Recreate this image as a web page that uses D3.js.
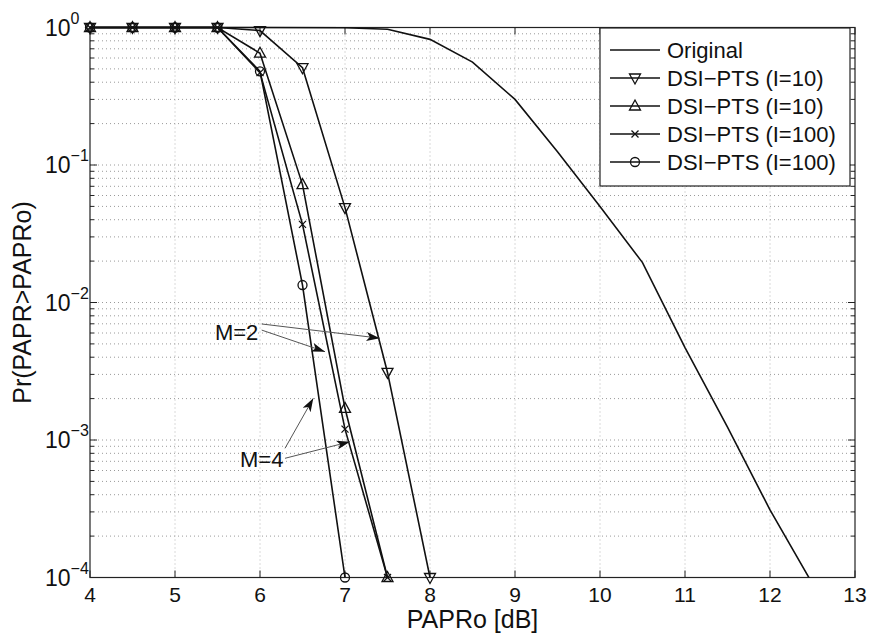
<!DOCTYPE html>
<html>
<head>
<meta charset="utf-8">
<script src="https://cdn.jsdelivr.net/npm/d3@7"></script>
<style>
  body { margin: 0; background: #fff; }
  text { font-family: "Liberation Sans", Arial, sans-serif; fill: #111; }
</style>
</head>
<body>
<svg id="chart"></svg>
<script>
// PAPRo axis points for the DSI-PTS curves (0.5 dB steps)
const papro = [4, 4.5, 5, 5.5, 6, 6.5, 7, 7.5, 8];
// Original CCDF
const origX = [4, 5, 6, 7, 7.5, 8, 8.5, 9, 9.5, 10, 10.5, 11, 11.5, 12, 12.5];
const origY = [1, 1, 1, 0.995, 0.97, 0.82, 0.56, 0.30, 0.125, 0.05, 0.0195, 0.0047, 0.00124, 0.00031, 0.00009];
// DSI-PTS curves
const dsiI10a  = [1, 1, 1, 1, 0.95, 0.51, 0.049, 0.0031, 0.0001];
const dsiI10b  = [1, 1, 1, 1, 0.65, 0.072, 0.0017, 0.0001];
const dsiI100a = [1, 1, 1, 1, 0.47, 0.037, 0.0012, 0.0001];
const dsiI100b = [1, 1, 1, 1, 0.48, 0.0134, 0.0001];

const legendLabels = ['Original', 'DSI\u2212PTS (I=10)', 'DSI\u2212PTS (I=10)', 'DSI\u2212PTS (I=100)', 'DSI\u2212PTS (I=100)'];
const markerTypes = ['none', 'tri-down', 'tri-up', 'cross', 'circle'];

const xTicks = [4, 5, 6, 7, 8, 9, 10, 11, 12, 13];
const yExponents = [0, -1, -2, -3, -4];

// annotation text + arrows, in data units
const notes = [
  { label: 'M=2', x: 5.47, y: 0.00533,
    arrows: [[6.02, 0.00698, 7.41, 0.0055], [6.02, 0.0063, 6.765, 0.00439]] },
  { label: 'M=4', x: 5.765, y: 0.000637,
    arrows: [[6.294, 0.00087, 6.627, 0.00201], [6.294, 0.000736, 7.059, 0.000972]] }
];

const W = 872, H = 633;
const margin = { top: 27.5, right: 17, bottom: 55.5, left: 90 };
const width = W - margin.left - margin.right;
const height = H - margin.top - margin.bottom;

const svg = d3.select('#chart').attr('width', W).attr('height', H);
const g = svg.append('g').attr('transform', `translate(${margin.left},${margin.top})`);

const x = d3.scaleLinear().domain([4, 13]).range([0, width]);
const y = d3.scaleLog().domain([1e-4, 1]).range([height, 0]);

svg.append('defs').append('clipPath').attr('id', 'plot-clip')
  .append('rect').attr('x', 0).attr('y', -2).attr('width', width).attr('height', height + 2);

// minor + major y values
let yMinor = [];
for (let e = -4; e < 0; e++) {
  for (let k = 1; k < 10; k++) yMinor.push(k * Math.pow(10, e));
}
yMinor.push(1);

// grid
const grid = g.append('g').attr('class', 'grid');
grid.selectAll('.hgrid').data(yMinor.filter(v => v > 1e-4 && v < 1)).enter()
  .append('line')
  .attr('x1', 0).attr('x2', width)
  .attr('y1', d => y(d)).attr('y2', d => y(d))
  .attr('stroke', '#9a9a9a').attr('stroke-width', 1).attr('stroke-dasharray', '1,3');
grid.selectAll('.vgrid').data(xTicks.slice(1, -1)).enter()
  .append('line')
  .attr('x1', d => x(d)).attr('x2', d => x(d))
  .attr('y1', 0).attr('y2', height)
  .attr('stroke', '#b5b5b5').attr('stroke-width', 1).attr('stroke-dasharray', '1,3');

// frame
g.append('rect').attr('width', width).attr('height', height)
  .attr('fill', 'none').attr('stroke', '#222').attr('stroke-width', 1.2);

// ticks (inward, MATLAB style)
const ticks = g.append('g').attr('stroke', '#222').attr('stroke-width', 1);
xTicks.forEach(t => {
  ticks.append('line').attr('x1', x(t)).attr('x2', x(t)).attr('y1', height).attr('y2', height - 7);
  ticks.append('line').attr('x1', x(t)).attr('x2', x(t)).attr('y1', 0).attr('y2', 7);
});
yMinor.forEach(v => {
  const major = Math.abs(Math.log10(v) - Math.round(Math.log10(v))) < 1e-9;
  const len = major ? 7 : 4;
  ticks.append('line').attr('x1', 0).attr('x2', len).attr('y1', y(v)).attr('y2', y(v));
  ticks.append('line').attr('x1', width).attr('x2', width - len).attr('y1', y(v)).attr('y2', y(v));
});

// x tick labels
g.selectAll('.xlab').data(xTicks).enter()
  .append('text')
  .attr('x', d => x(d)).attr('y', height + 24)
  .attr('text-anchor', 'middle')
  .style('font-size', '21px')
  .text(d => d);

// y tick labels 10^e
yExponents.forEach(e => {
  const t = g.append('text')
    .attr('x', -45).attr('y', y(Math.pow(10, e)) + 8)
    .style('font-size', '23px');
  t.append('tspan').text('10');
  t.append('tspan').attr('dy', -12).style('font-size', '16px')
    .text(e === 0 ? '0' : '\u2212' + (-e));
});

// axis labels
svg.append('text')
  .attr('x', margin.left + width / 2).attr('y', 628)
  .attr('text-anchor', 'middle')
  .style('font-size', '25px')
  .text('PAPRo [dB]');
svg.append('text')
  .attr('transform', `translate(31,${margin.top + height / 2}) rotate(-90)`)
  .attr('text-anchor', 'middle')
  .style('font-size', '25px')
  .text('Pr(PAPR>PAPRo)');

// series
const series = [
  { xs: origX, ys: origY, marker: markerTypes[0] },
  { xs: papro, ys: dsiI10a, marker: markerTypes[1] },
  { xs: papro, ys: dsiI10b, marker: markerTypes[2] },
  { xs: papro, ys: dsiI100a, marker: markerTypes[3] },
  { xs: papro, ys: dsiI100b, marker: markerTypes[4] }
];

const line = d3.line().x(d => x(d[0])).y(d => y(d[1]));
const plot = g.append('g').attr('clip-path', 'url(#plot-clip)');

function drawMarker(sel, type, cx, cy) {
  if (type === 'tri-down') {
    sel.append('path')
      .attr('d', `M${cx - 5.5},${cy - 4} L${cx + 5.5},${cy - 4} L${cx},${cy + 6} Z`)
      .attr('fill', 'none').attr('stroke', '#111').attr('stroke-width', 1.3);
  } else if (type === 'tri-up') {
    sel.append('path')
      .attr('d', `M${cx - 5.5},${cy + 4} L${cx + 5.5},${cy + 4} L${cx},${cy - 6} Z`)
      .attr('fill', 'none').attr('stroke', '#111').attr('stroke-width', 1.3);
  } else if (type === 'cross') {
    sel.append('path')
      .attr('d', `M${cx - 3.5},${cy - 3.5} L${cx + 3.5},${cy + 3.5} M${cx - 3.5},${cy + 3.5} L${cx + 3.5},${cy - 3.5}`)
      .attr('fill', 'none').attr('stroke', '#111').attr('stroke-width', 1.3);
  } else if (type === 'circle') {
    sel.append('circle').attr('cx', cx).attr('cy', cy).attr('r', 4.5)
      .attr('fill', 'none').attr('stroke', '#111').attr('stroke-width', 1.3);
  }
}

series.forEach(s => {
  const pts = s.ys.map((v, i) => [s.xs[i], v]);
  plot.append('path').datum(pts)
    .attr('d', line)
    .attr('fill', 'none').attr('stroke', '#111').attr('stroke-width', 1.6);
});
const markers = g.append('g');
series.forEach(s => {
  if (s.marker === 'none') return;
  s.ys.forEach((v, i) => drawMarker(markers, s.marker, x(s.xs[i]), y(v)));
});

// annotations
const defs = svg.select('defs');
defs.append('marker').attr('id', 'arrowhead')
  .attr('viewBox', '0 0 12 8').attr('refX', 12).attr('refY', 4)
  .attr('markerWidth', 14).attr('markerHeight', 9).attr('markerUnits', 'userSpaceOnUse')
  .attr('orient', 'auto')
  .append('path').attr('d', 'M0,0 L12,4 L0,8 L3,4 Z').attr('fill', '#111');

notes.forEach(n => {
  g.append('text')
    .attr('x', x(n.x)).attr('y', y(n.y))
    .style('font-size', '22px')
    .text(n.label);
  n.arrows.forEach(a => {
    g.append('line')
      .attr('x1', x(a[0])).attr('y1', y(a[1]))
      .attr('x2', x(a[2])).attr('y2', y(a[3]))
      .attr('stroke', '#555').attr('stroke-width', 1)
      .attr('marker-end', 'url(#arrowhead)');
  });
});

// legend
const lg = svg.append('g').attr('transform', 'translate(600,28)');
lg.append('rect').attr('width', 250).attr('height', 158)
  .attr('fill', '#fff').attr('stroke', '#222').attr('stroke-width', 1.2);
legendLabels.forEach((lab, i) => {
  const cy = 22 + i * 28;
  lg.append('line').attr('x1', 10).attr('x2', 60).attr('y1', cy).attr('y2', cy)
    .attr('stroke', '#111').attr('stroke-width', 1.6);
  drawMarker(lg, markerTypes[i], 35, cy);
  lg.append('text').attr('x', 67).attr('y', cy + 8)
    .style('font-size', '22px')
    .text(lab);
});
</script>
</body>
</html>
